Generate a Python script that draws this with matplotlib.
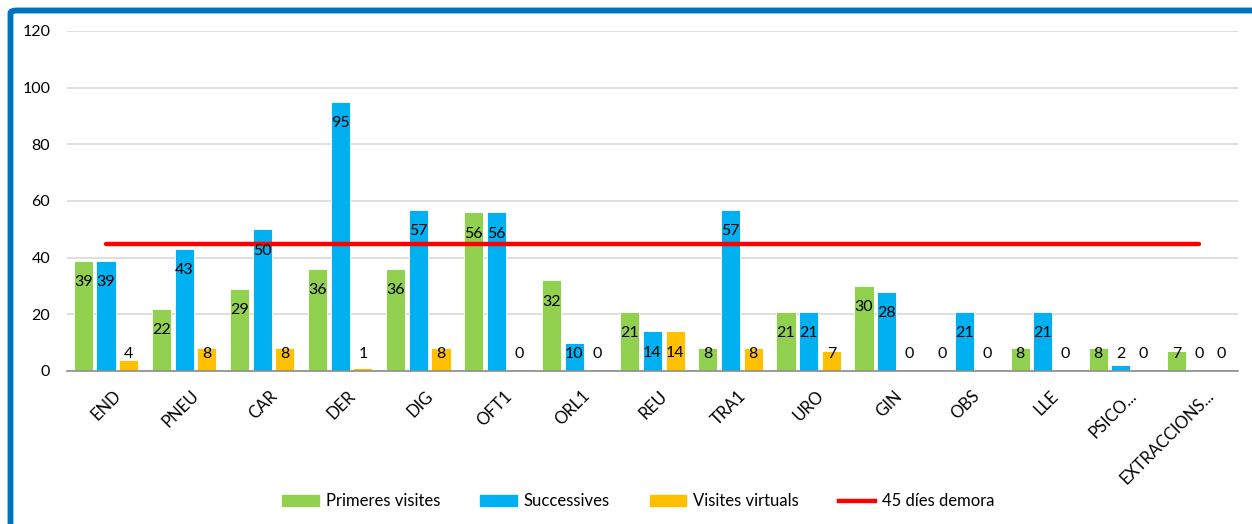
import matplotlib.pyplot as plt
import matplotlib.patches as mpatches
import matplotlib.transforms as mtransforms
from matplotlib.lines import Line2D
import numpy as np

plt.rcParams['font.family'] = ['Lato', 'DejaVu Sans']

categories = ['END', 'PNEU', 'CAR', 'DER', 'DIG', 'OFT1', 'ORL1', 'REU', 'TRA1',
              'URO', 'GIN', 'OBS', 'LLE', 'PSICO...', 'EXTRACCIONS...']
primeres = [39, 22, 29, 36, 36, 56, 32, 21, 8, 21, 30, 0, 8, 8, 7]
successives = [39, 43, 50, 95, 57, 56, 10, 14, 57, 21, 28, 21, 21, 2, 0]
virtuals = [4, 8, 8, 1, 8, 0, 0, 14, 8, 7, 0, 0, 0, 0, 0]
demora = [45, 45, 45, 45, 45, 45, 45, 45, 45, 45, 45, 45, 45, 45, 45]

green = '#92D050'
blue = '#00B0F0'
yellow = '#FFC000'
red = '#FF0000'

fig = plt.figure(figsize=(12.52, 5.24), dpi=100)
ax = fig.add_axes([67 / 1252, 1 - 371 / 524, (1238 - 67) / 1252, (371 - 31) / 524])

x = np.arange(len(categories))
w = 0.245
off = 0.29
series = [(primeres, green, -off), (successives, blue, 0), (virtuals, yellow, off)]
for vals, col, dx in series:
    ax.bar(x + dx, vals, width=w, color=col, edgecolor='white', linewidth=0.6, zorder=2)
    for xi, v in zip(x + dx, vals):
        ax.text(xi, max(v - 7.5, 6), str(v), ha='center', va='center',
                fontsize=11.5, color='black', zorder=4)

ax.plot(x, demora, color=red, linewidth=3.2, solid_capstyle='round', zorder=3)

ax.set_xlim(-0.5, len(categories) - 0.5)
ax.set_ylim(0, 120)
ax.set_yticks(range(0, 121, 20))
ax.yaxis.grid(True, color='#d9d9d9', linewidth=1.2, zorder=0)
ax.set_axisbelow(True)
for s in ['left', 'right', 'top']:
    ax.spines[s].set_visible(False)
ax.spines['bottom'].set_color('#8c8c8c')
ax.spines['bottom'].set_linewidth(1.2)
ax.tick_params(axis='both', length=0, labelsize=11.5, colors='black')
ax.tick_params(axis='y', pad=12)
ax.set_xticks(x)
ax.set_xticklabels(categories, rotation=45, ha='right', rotation_mode='anchor')
ax.tick_params(axis='x', pad=12, labelsize=12)
shift = mtransforms.ScaledTranslation(7 / 100, 0, fig.dpi_scale_trans)
for lab in ax.get_xticklabels():
    lab.set_transform(lab.get_transform() + shift)

handles = [mpatches.Patch(color=green, label='Primeres visites'),
           mpatches.Patch(color=blue, label='Successives'),
           mpatches.Patch(color=yellow, label='Visites virtuals'),
           Line2D([], [], color=red, linewidth=3.2, label='45 díes demora')]
fig.legend(handles=handles, loc='center', bbox_to_anchor=(0.51, 0.043), ncol=4,
           frameon=False, fontsize=12, handlelength=2.2, handleheight=0.6,
           columnspacing=2.4, handletextpad=0.4)

border = mpatches.FancyBboxPatch((10.5 / 1252, -0.2), 1.2, 1 - 10.5 / 524 + 0.2,
                                 boxstyle='round,pad=0,rounding_size=0.005',
                                 transform=fig.transFigure, fill=False,
                                 edgecolor='#0070C0', linewidth=4.2)
fig.patches.append(border)

fig.savefig('out.png', dpi=100)
